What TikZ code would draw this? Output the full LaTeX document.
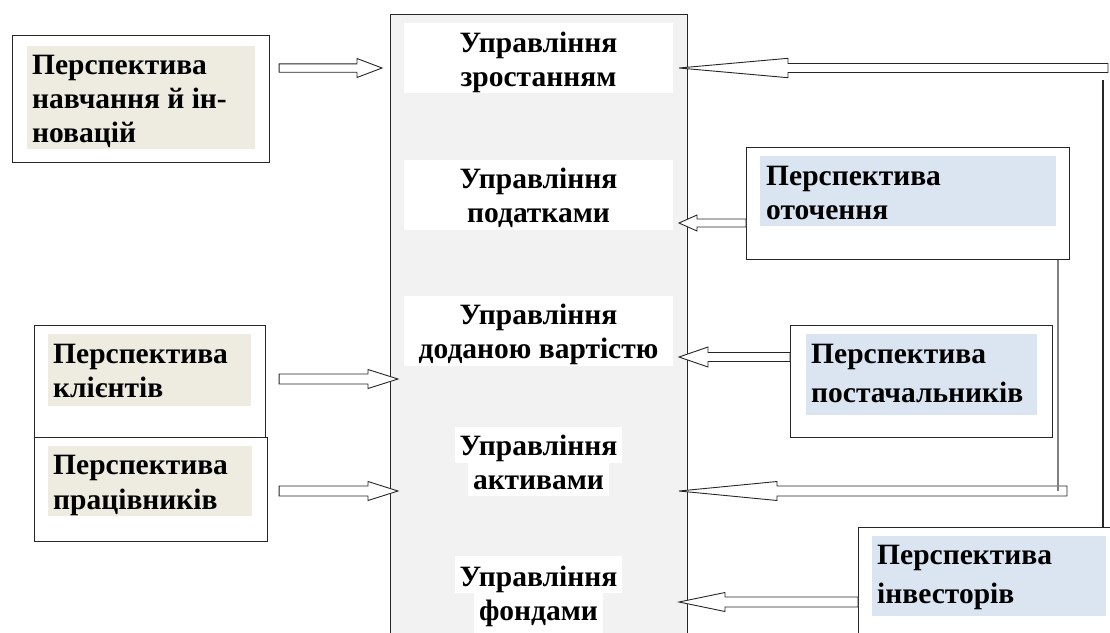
\documentclass[tikz,border=0pt]{standalone}
\usepackage{fontspec}
\setmainfont{Liberation Serif}
\newfontfamily\lblfont{Liberation Serif}
\usetikzlibrary{calc}

\definecolor{tanbg}{HTML}{EEECE1}
\definecolor{bluebg}{HTML}{DBE5F1}
\definecolor{panel}{HTML}{F2F2F2}
\definecolor{frameline}{HTML}{262626}

% hollow horizontal block arrow: tail (x only), tip, half shaft, head length, half head
\newcommand\hollowarr[5]{%
  \draw[blockarrow] let \p1=(#1), \p2=(#2), \n1={sign(\x2-\x1)} in
    (\x1,\y2+#3) -- ({\x2-\n1*#4},\y2+#3) -- ({\x2-\n1*#4},\y2+#5) -- (\p2)
    -- ({\x2-\n1*#4},\y2-#5) -- ({\x2-\n1*#4},\y2-#3) -- (\x1,\y2-#3) -- cycle;}

\tikzset{
  txt/.style={font={\lblfont\bfseries\fontsize{29.5}{34}\selectfont}, text=black, inner sep=0pt},
  ltxt/.style={txt, anchor=base west},
  ctxt/.style={txt, anchor=base},
  frame/.style={draw=frameline, line width=1.1pt, fill=white, anchor=north west, inner sep=0pt},
  shade/.style={anchor=north west, inner sep=0pt, draw=none},
  tanbox/.style={shade, fill=tanbg},
  bluebox/.style={shade, fill=bluebg},
  whitebox/.style={shade, fill=white, minimum width=269, minimum height=70},
  hl/.style={ctxt, fill=white, inner xsep=5pt},
  blockarrow/.style={draw=frameline, line width=0.9pt, fill=white, line join=miter},
  link/.style={draw=frameline, line width=1.1pt},
  greylink/.style={draw=black!50, line width=1.6pt},
}

\begin{document}
\begin{tikzpicture}[x=1pt, y=-1pt]
\useasboundingbox (0,0) rectangle (1110,632);
\clip (0,0) rectangle (1110,632);

% central panel with the management areas
\node[draw=frameline, line width=1.1pt, fill=panel, anchor=north west, inner sep=0pt,
      minimum width=297, minimum height=660] (ctr) at (390,14) {};
\node[whitebox] (m1) at (404,23)  {};
\node[whitebox] (m2) at (404,160) {};
\node[whitebox] (m3) at (404,296) {};
\node[ctxt] (m1a) at (538.5,52)  {Управління};
\node[ctxt] (m1b) at (538.5,86)  {зростанням};
\node[ctxt] (m2a) at (538.5,188) {Управління};
\node[ctxt] (m2b) at (538.5,222) {податками};
\node[ctxt] (m3a) at (538.5,324) {Управління};
\node[ctxt] (m3b) at (538.5,358) {доданою вартістю};
\node[hl, text height=28, text depth=8]  (m4a) at (538.5,455) {Управління};
\node[hl, text height=26, text depth=7]  (m4b) at (538.5,489) {активами};
\node[hl, text height=30, text depth=7]  (m5a) at (538.5,586) {Управління};
\node[hl, text height=27, text depth=15] (m5b) at (538.5,620) {фондами};

% left perspectives
\node[frame, minimum width=257, minimum height=127] (fA) at (12,35) {};
\node[tanbox, minimum width=228, minimum height=103] (pA) at (27,46) {};
\node[ltxt] (pA1) at (32,74)  {Перспектива};
\node[ltxt] (pA2) at (32,108) {навчання й ін-};
\node[ltxt] (pA3) at (32,142) {новацій};

\node[frame, minimum width=231, minimum height=112] (fB) at (34,325) {};
\node[tanbox, minimum width=203, minimum height=72] (pB) at (48,334) {};
\node[ltxt] (pB1) at (53,363) {Перспектива};
\node[ltxt] (pB2) at (53,397) {клієнтів};

\node[frame, minimum width=233, minimum height=104] (fC) at (34,437) {};
\node[tanbox, minimum width=204, minimum height=70] (pC) at (48,446) {};
\node[ltxt] (pC1) at (53,474) {Перспектива};
\node[ltxt] (pC2) at (53,509) {працівників};

% right perspectives
\node[frame, minimum width=323, minimum height=112] (fD) at (746,147) {};
\node[bluebox, minimum width=296, minimum height=70] (pD) at (760,156) {};
\node[ltxt] (pD1) at (766,185) {Перспектива};
\node[ltxt] (pD2) at (766,219) {оточення};

\node[frame, minimum width=262, minimum height=112] (fE) at (790,325) {};
\node[bluebox, minimum width=231, minimum height=81] (pE) at (806,334) {};
\node[ltxt] (pE1) at (811,363) {Перспектива};
\node[ltxt] (pE2) at (811,402) {постачальників};

\node[frame, minimum width=300, minimum height=150] (fF) at (858,527) {};
\node[bluebox, minimum width=234, minimum height=80] (pF) at (872,536) {};
\node[ltxt] (pF1) at (877,564) {Перспектива};
\node[ltxt] (pF2) at (877,603) {інвесторів};

% arrow tips and free ends
\coordinate (tipA) at (382,68);
\coordinate (tipB) at (398,379);
\coordinate (tipC) at (398,491);
\coordinate (tipD) at (679,223);
\coordinate (tipE) at (679,357);
\coordinate (tipF) at (679,602);
\coordinate (tipTop) at (679,68);
\coordinate (tipAct) at (679,491);
\coordinate (tailTop) at (1108,68);
\coordinate (tailAct) at (1067,491);
\coordinate (riser) at (1103,80);

% riser from the investors box up to the top arrow
\draw[link] (riser) -- (riser |- fF.north);

% block arrows
\hollowarr{$(fA.east)+(9,0)$}{tipA}{4.2pt}{25pt}{9.5pt}
\hollowarr{$(fB.east)+(13,0)$}{tipB}{5pt}{30pt}{9.5pt}
\hollowarr{$(fC.east)+(11,0)$}{tipC}{5pt}{30pt}{9.5pt}
\hollowarr{fD.west}{tipD}{4pt}{18pt}{8pt}
\hollowarr{fE.west}{tipE}{4.5pt}{29pt}{10pt}
\hollowarr{fF.west}{tipF}{5pt}{46pt}{9.5pt}
\hollowarr{tailTop}{tipTop}{4.5pt}{109pt}{9.7pt}
\hollowarr{tailAct}{tipAct}{5pt}{98pt}{9.5pt}

% grey feed from the environment box into the assets arrow
\draw[greylink] ($(fD.south east)+(-12,0)$) -- ($(fD.south east |- tipAct)+(-12,0)$);
\end{tikzpicture}
\end{document}
